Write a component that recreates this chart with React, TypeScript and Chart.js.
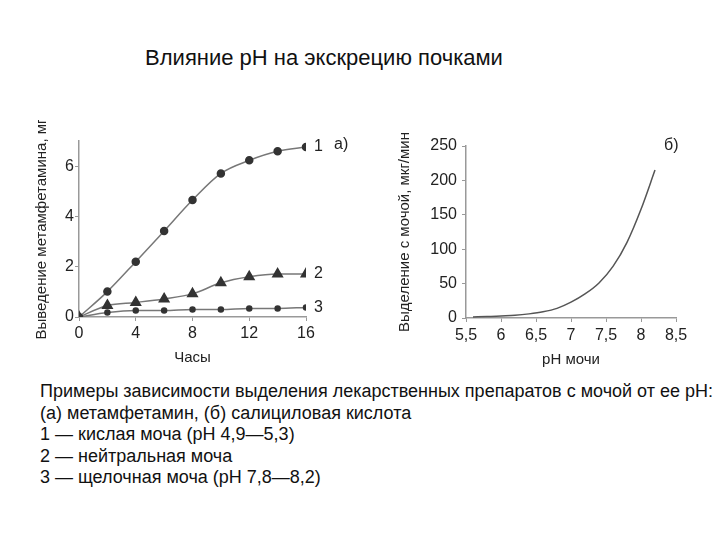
import React, { useEffect, useRef } from "react";
import { Chart, registerables } from "chart.js";

Chart.register(...registerables);

const hours = [0, 2, 4, 6, 8, 10, 12, 14, 16];
const acidUrine = [0, 1.01, 2.2, 3.42, 4.65, 5.71, 6.23, 6.59, 6.76];
const neutralUrine = [0, 0.46, 0.58, 0.72, 0.92, 1.36, 1.6, 1.71, 1.71];
const alkalineUrine = [0, 0.18, 0.26, 0.26, 0.3, 0.3, 0.34, 0.34, 0.38];
const seriesLabels = ["1", "2", "3"];
const leftYTicks = [0, 2, 4, 6];

const phValues = [5.6, 5.8, 6.0, 6.2, 6.4, 6.6, 6.8, 7.0, 7.2, 7.4, 7.6, 7.8, 8.0, 8.2];
const salicylate = [1.5, 2, 3, 4, 6, 9, 14, 23, 35, 51, 75, 110, 158, 215];

const FONT = "'Liberation Sans', Arial, sans-serif";

const endLabels = {
  id: "endLabels",
  afterDatasetsDraw(chart: any, _args: any, opts: any) {
    const ctx = chart.ctx;
    ctx.save();
    ctx.fillStyle = "#222";
    ctx.font = `16px ${FONT}`;
    ctx.textBaseline = "middle";
    if (opts.series) {
      chart.data.datasets.forEach((ds: any, i: number) => {
        const meta = chart.getDatasetMeta(i);
        const last = meta.data[meta.data.length - 1];
        ctx.fillText(ds.label, last.x + 8, last.y);
      });
    }
    if (opts.corner) {
      ctx.fillText(opts.corner, chart.chartArea.right + opts.cornerDx, chart.chartArea.top + opts.cornerDy);
    }
    ctx.restore();
  },
};

function commonScale(extra: any) {
  return {
    type: "linear",
    border: { color: "#999", width: 1.5 },
    grid: { display: true, drawOnChartArea: false, tickLength: 4, color: "#999" },
    ...extra,
  };
}

export default function App() {
  const leftRef = useRef<HTMLCanvasElement>(null);
  const rightRef = useRef<HTMLCanvasElement>(null);

  useEffect(() => {
    const lineColor = "#777";
    const markColor = "#333";
    const left = new Chart(leftRef.current!, {
      type: "line",
      data: {
        datasets: [
          {
            label: seriesLabels[0],
            data: hours.map((h, i) => ({ x: h, y: acidUrine[i] })),
            borderColor: lineColor,
            borderWidth: 1.5,
            pointStyle: "circle",
            pointRadius: 3.5,
            pointBackgroundColor: markColor,
            pointBorderColor: markColor,
            cubicInterpolationMode: "monotone",
          },
          {
            label: seriesLabels[1],
            data: hours.map((h, i) => ({ x: h, y: neutralUrine[i] })),
            borderColor: lineColor,
            borderWidth: 1.5,
            pointStyle: "triangle",
            pointRadius: 5.5,
            pointBackgroundColor: markColor,
            pointBorderColor: markColor,
            cubicInterpolationMode: "monotone",
          },
          {
            label: seriesLabels[2],
            data: hours.map((h, i) => ({ x: h, y: alkalineUrine[i] })),
            borderColor: lineColor,
            borderWidth: 1.5,
            pointStyle: "circle",
            pointRadius: 2.5,
            pointBackgroundColor: markColor,
            pointBorderColor: markColor,
            cubicInterpolationMode: "monotone",
          },
        ],
      },
      options: {
        animation: false,
        responsive: false,
        layout: { padding: { left: 0, right: 54, top: 21, bottom: 0 } },
        plugins: {
          legend: { display: false },
          tooltip: { enabled: false },
          endLabels: { series: true, corner: "а)", cornerDx: 28, cornerDy: 4 },
        } as any,
        scales: {
          x: commonScale({
            min: 0,
            max: 16,
            ticks: { stepSize: 4, color: "#222", font: { family: FONT, size: 16 }, padding: 3, maxRotation: 0 },
            title: { display: true, text: "Часы", color: "#222", font: { family: FONT, size: 15 }, padding: { top: 0, bottom: 8 } },
            afterFit: (s: any) => { s.height = 58; },
          }),
          y: commonScale({
            min: 0,
            max: 7,
            afterBuildTicks: (s: any) => { s.ticks = leftYTicks.map((v) => ({ value: v })); },
            ticks: { color: "#222", font: { family: FONT, size: 16 }, padding: 1 },
            title: { display: true, text: "Выведение метамфетамина, мг", color: "#222", font: { family: FONT, size: 15 }, padding: { top: 13, bottom: 0 } },
            afterFit: (s: any) => { s.width = 59; },
          }),
        },
      } as any,
      plugins: [endLabels],
    });

    const right = new Chart(rightRef.current!, {
      type: "line",
      data: {
        datasets: [
          {
            label: "б",
            data: phValues.map((p, i) => ({ x: p, y: salicylate[i] })),
            borderColor: "#555",
            borderWidth: 1.5,
            pointRadius: 0,
            cubicInterpolationMode: "monotone",
          },
        ],
      },
      options: {
        animation: false,
        responsive: false,
        layout: { padding: { left: 0, right: 29, top: 26, bottom: 0 } },
        plugins: {
          legend: { display: false },
          tooltip: { enabled: false },
          endLabels: { series: false, corner: "б)", cornerDx: -12, cornerDy: 0 },
        } as any,
        scales: {
          x: commonScale({
            min: 5.5,
            max: 8.5,
            ticks: {
              stepSize: 0.5,
              color: "#222",
              font: { family: FONT, size: 16 },
              padding: 4,
              maxRotation: 0,
              autoSkip: false,
              callback: (v: any) => String(Math.round(v * 10) / 10).replace(".", ","),
            },
            title: { display: true, text: "pH мочи", color: "#222", font: { family: FONT, size: 15 }, padding: { top: 0, bottom: 6 } },
            afterFit: (s: any) => { s.height = 57; },
          }),
          y: commonScale({
            min: 0,
            max: 250,
            ticks: { stepSize: 50, color: "#222", font: { family: FONT, size: 16 }, padding: 5 },
            title: { display: true, text: "Выделение с мочой, мкг/мин", color: "#222", font: { family: FONT, size: 15 }, padding: { top: 11, bottom: 0 } },
            afterFit: (s: any) => { s.width = 81; },
          }),
        },
      } as any,
      plugins: [endLabels],
    });

    return () => {
      left.destroy();
      right.destroy();
    };
  }, []);

  const captionLines = [
    "Примеры зависимости выделения лекарственных препаратов с мочой от ее pH:",
    "(а) метамфетамин, (б) салициловая кислота",
    "1 — кислая моча (pH 4,9—5,3)",
    "2 — нейтральная моча",
    "3 — щелочная моча (pH 7,8—8,2)",
  ];

  return (
    <div style={{ position: "relative", width: 720, height: 540, margin: -8, background: "#fff", fontFamily: FONT, color: "#111" }}>
      <div style={{ position: "absolute", left: 0, width: 648, top: 43, textAlign: "center", fontSize: 22, lineHeight: "30px" }}>
        Влияние pH на экскрецию почками
      </div>
      <canvas ref={leftRef} width={340} height={255} style={{ position: "absolute", left: 20, top: 120 }} />
      <canvas ref={rightRef} width={320} height={255} style={{ position: "absolute", left: 385, top: 120 }} />
      <div style={{ position: "absolute", left: 40, top: 381, fontSize: 18, lineHeight: "21.5px", whiteSpace: "nowrap" }}>
        {captionLines.map((l, i) => (
          <div key={i}>{l}</div>
        ))}
      </div>
    </div>
  );
}
